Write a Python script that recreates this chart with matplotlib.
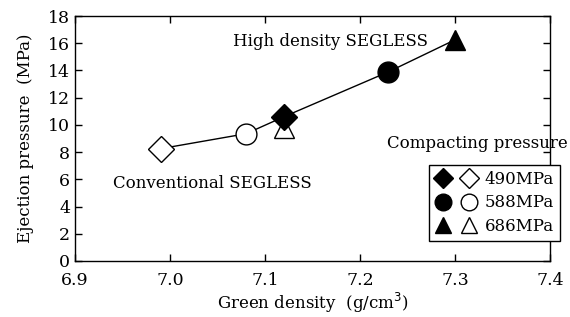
import matplotlib
matplotlib.use("Agg")
import matplotlib.pyplot as plt
from matplotlib.legend_handler import HandlerTuple
from matplotlib.lines import Line2D

plt.rcParams['font.family'] = ['DejaVu Serif']

# green density (g/cm3) and ejection pressure (MPa)
# high density SEGLESS (filled markers)
hd_density = [7.12, 7.23, 7.30]
hd_eject = [10.6, 13.9, 16.25]
# conventional SEGLESS (open markers)
cv_density = [6.99, 7.08, 7.12]
cv_eject = [8.25, 9.35, 9.8]
markers = ['D', 'o', '^']
msizes = [13, 15, 14]
pressures = ['490MPa', '588MPa', '686MPa']

# curve through the points
line_x = cv_density[:2] + hd_density
line_y = cv_eject[:2] + hd_eject

fig = plt.figure(figsize=(5.7, 3.17), dpi=100)
ax = fig.add_axes([0.1316, 0.1767, 0.8333, 0.7728])

ax.plot(line_x, line_y, color='black', lw=1, zorder=1)
for i in range(3):
    ax.plot(cv_density[i], cv_eject[i], marker=markers[i], ms=msizes[i],
            mfc='white', mec='black', mew=1, ls='none', zorder=2)
    ax.plot(hd_density[i], hd_eject[i], marker=markers[i], ms=msizes[i],
            mfc='black', mec='black', ls='none', zorder=3)

ax.set_xlim(6.9, 7.4)
ax.set_ylim(0, 18)
ax.set_xticks([6.9, 7.0, 7.1, 7.2, 7.3, 7.4])
ax.set_xticklabels(['6.9', '7.0', '7.1', '7.2', '7.3', '7.4'])
ax.set_yticks(range(0, 19, 2))
ax.tick_params(direction='in', top=True, right=True, labelsize=12.5, length=5, width=1)
ax.tick_params(axis='x', pad=8)
for s in ax.spines.values():
    s.set_linewidth(1)

ax.set_xlabel('Green density  (g/cm$^3$)', fontsize=12, labelpad=1)
ax.set_ylabel('Ejection pressure  (MPa)', fontsize=12, labelpad=10)

ax.text(7.169, 16.1, 'High density SEGLESS', fontsize=12, ha='center', va='center')
ax.text(7.045, 5.66, 'Conventional SEGLESS', fontsize=12, ha='center', va='center')
ax.text(1.038, 0.478, 'Compacting pressure', fontsize=12, ha='right', va='center',
        transform=ax.transAxes)

handles = []
for i in range(3):
    f = Line2D([], [], marker=markers[i], ms=msizes[i] * 0.8, mfc='black', mec='black', ls='none')
    o = Line2D([], [], marker=markers[i], ms=msizes[i] * 0.8, mfc='white', mec='black', ls='none')
    handles.append((f, o))
leg = ax.legend(handles, pressures, handler_map={tuple: HandlerTuple(ndivide=None, pad=0.6)},
                loc='upper right', bbox_to_anchor=(1.021, 0.392), fontsize=12,
                frameon=True, fancybox=False, edgecolor='black', framealpha=1,
                handlelength=2.5, handletextpad=0.5, labelspacing=0.4,
                borderpad=0.35, borderaxespad=0)
leg.get_frame().set_linewidth(1)

fig.savefig('out.png', dpi=100)
